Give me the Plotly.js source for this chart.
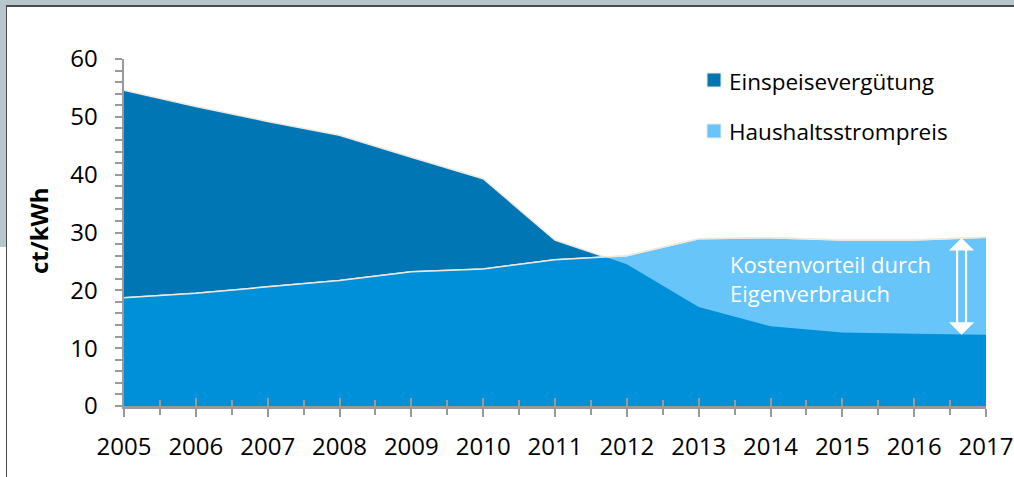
<!DOCTYPE html>
<html>
<head>
<meta charset="utf-8">
<script src="https://cdn.plot.ly/plotly-3.0.1.min.js"></script>
<style>
  html, body { margin: 0; padding: 0; width: 1014px; height: 477px; overflow: hidden; background: #ffffff; }
  #frameTop { position: absolute; left: 0; top: 0; width: 1014px; height: 5px; background: #b5c7cb; }
  #frameLeft { position: absolute; left: 0; top: 0; width: 6px; height: 247px; background: #b5c7cb; }
  #lineTop { position: absolute; left: 6px; top: 5px; width: 1008px; height: 2px; background: #4a4a4a; }
  #lineLeft { position: absolute; left: 6px; top: 5px; width: 1px; height: 472px; background: #4a4a4a; }
  #chart { position: absolute; left: 0; top: 0; width: 1014px; height: 477px; }
</style>
</head>
<body>
<div id="frameTop"></div>
<div id="frameLeft"></div>
<div id="lineTop"></div>
<div id="lineLeft"></div>
<div id="chart"></div>
<script>
// ---- data ----
const years = [2005, 2006, 2007, 2008, 2009, 2010, 2011, 2012, 2013, 2014, 2015, 2016, 2017];
const yearLabels = ["2005", "2006", "2007", "2008", "2009", "2010", "2011", "2012", "2013", "2014", "2015", "2016", "2017"];
const einspeise = [54.6, 51.8, 49.2, 46.8, 43.0, 39.3, 28.7, 24.5, 17.1, 13.8, 12.7, 12.5, 12.3];
const haushalt = [18.7, 19.5, 20.6, 21.7, 23.2, 23.7, 25.3, 26.0, 28.9, 29.1, 28.7, 28.7, 29.2];
const seriesNames = ["Einspeisevergütung", "Haushaltsstrompreis"];
const noteText = "Kostenvorteil durch<br>Eigenverbrauch";
const yTitle = "ct/kWh";

// ---- colours ----
const cDark = "#0076b5", cMid = "#008fd9", cLight = "#68c5f9", cEdge = "#efe9dd";

// lower envelope of the two series (with crossing points), for the overlap colour
const lowX = [], lowY = [];
for (let i = 0; i < years.length; i++) {
  lowX.push(years[i]);
  lowY.push(Math.min(einspeise[i], haushalt[i]));
  if (i < years.length - 1) {
    const d0 = einspeise[i] - haushalt[i], d1 = einspeise[i + 1] - haushalt[i + 1];
    if (d0 * d1 < 0) {
      const t = d0 / (d0 - d1);
      lowX.push(years[i] + t * (years[i + 1] - years[i]));
      lowY.push(einspeise[i] + t * (einspeise[i + 1] - einspeise[i]));
    }
  }
}

const traces = [
  { x: years, y: einspeise, type: "scatter", mode: "lines", fill: "tozeroy",
    fillcolor: cDark, line: { color: cEdge, width: 1.5 }, name: seriesNames[0], hoverinfo: "skip" },
  { x: years, y: haushalt, type: "scatter", mode: "lines", fill: "tozeroy",
    fillcolor: cLight, line: { color: cEdge, width: 1.5 }, name: seriesNames[1], hoverinfo: "skip" },
  { x: lowX, y: lowY, type: "scatter", mode: "lines", fill: "tozeroy",
    fillcolor: cMid, line: { color: cMid, width: 0 }, hoverinfo: "skip" },
  { x: years, y: haushalt, type: "scatter", mode: "lines",
    line: { color: cEdge, width: 1.5 }, hoverinfo: "skip" }
];

const axisGray = "#9a9a9a";
const L = 124, R = 986, T = 59, B = 406;
const px2paperX = p => (p - L) / (R - L);
const px2paperY = p => (B - p) / (B - T);

const arrowX = 2016.66, arrowTop = 29.05, arrowBot = 12.3;
const shaftHalf = 0.062; // half shaft width in years (~4.5 px)

const layout = {
  width: 1014, height: 477,
  margin: { l: L, r: 1014 - R, t: T, b: 477 - B },
  paper_bgcolor: "rgba(0,0,0,0)", plot_bgcolor: "rgba(0,0,0,0)",
  showlegend: false,
  font: { family: "Open Sans, sans-serif", color: "#000" },
  xaxis: {
    range: [2005, 2017], tickvals: years, ticktext: yearLabels,
    showgrid: false, zeroline: false, showline: true, linecolor: axisGray, linewidth: 2.5,
    ticks: "outside", ticklen: 8, tickcolor: axisGray, tickwidth: 2,
    minor: { dtick: 0.5, ticks: "outside", ticklen: 6, tickcolor: axisGray, tickwidth: 2 },
    tickfont: { size: 24, color: "#000" }, ticklabelstandoff: 10, fixedrange: true
  },
  xaxis2: {
    overlaying: "x", range: [2005, 2017], tickvals: years, showticklabels: false,
    showgrid: false, zeroline: false, showline: false,
    ticks: "inside", ticklen: 8, tickcolor: axisGray, tickwidth: 2,
    minor: { dtick: 0.5, ticks: "inside", ticklen: 6, tickcolor: axisGray, tickwidth: 2 }
  },
  yaxis: {
    range: [0, 60], dtick: 10, showgrid: false, zeroline: false,
    showline: true, linecolor: axisGray, linewidth: 2.5,
    ticks: "outside", ticklen: 7, tickcolor: axisGray, tickwidth: 2,
    minor: { dtick: 2, ticks: "outside", ticklen: 7, tickcolor: axisGray, tickwidth: 2 },
    tickfont: { size: 24, color: "#000" }, ticklabelstandoff: 12, fixedrange: true
  },
  shapes: [
    { type: "line", xref: "x", yref: "y", x0: arrowX - shaftHalf, x1: arrowX - shaftHalf,
      y0: arrowBot + 1.6, y1: arrowTop - 1.6, line: { color: "#fff", width: 2.2 }, layer: "above" },
    { type: "line", xref: "x", yref: "y", x0: arrowX + shaftHalf, x1: arrowX + shaftHalf,
      y0: arrowBot + 1.6, y1: arrowTop - 1.6, line: { color: "#fff", width: 2.2 }, layer: "above" },
    { type: "rect", xref: "paper", yref: "paper",
      x0: px2paperX(707), x1: px2paperX(721), y0: px2paperY(87), y1: px2paperY(73),
      fillcolor: cDark, line: { color: cEdge, width: 1 } },
    { type: "rect", xref: "paper", yref: "paper",
      x0: px2paperX(707), x1: px2paperX(721), y0: px2paperY(138), y1: px2paperY(124),
      fillcolor: cLight, line: { color: cEdge, width: 1 } }
  ],
  annotations: [
    { xref: "paper", yref: "paper", x: px2paperX(38), y: px2paperY(231), text: "<b>" + yTitle + "</b>",
      textangle: -90, showarrow: false, font: { size: 24, color: "#000" }, xanchor: "center", yanchor: "middle" },
    { xref: "paper", yref: "paper", x: px2paperX(727), y: px2paperY(81), text: seriesNames[0],
      showarrow: false, xanchor: "left", yanchor: "middle", font: { size: 22.5, color: "#000" } },
    { xref: "paper", yref: "paper", x: px2paperX(727), y: px2paperY(131), text: seriesNames[1],
      showarrow: false, xanchor: "left", yanchor: "middle", font: { size: 22.5, color: "#000" } },
    { xref: "x", yref: "y", x: 2013.41, y: 22.0, text: noteText, showarrow: false,
      xanchor: "left", yanchor: "middle", align: "left", font: { size: 22, color: "#fff" } },
    { xref: "x", yref: "y", axref: "x", ayref: "y", x: arrowX, y: arrowTop, ax: arrowX, ay: arrowTop - 2.0,
      text: "", showarrow: true, arrowhead: 1, arrowsize: 2.1, arrowwidth: 2, arrowcolor: "#fff", standoff: 0, startstandoff: 0 },
    { xref: "x", yref: "y", axref: "x", ayref: "y", x: arrowX, y: arrowBot, ax: arrowX, ay: arrowBot + 2.0,
      text: "", showarrow: true, arrowhead: 1, arrowsize: 2.1, arrowwidth: 2, arrowcolor: "#fff", standoff: 0, startstandoff: 0 }
  ]
};

// invisible trace on xaxis2 so its inside ticks are drawn
traces.push({ x: [2005, 2017], y: [0, 0], xaxis: "x2", yaxis: "y", mode: "lines",
  line: { width: 0, color: "rgba(0,0,0,0)" }, hoverinfo: "skip", type: "scatter" });

Plotly.newPlot("chart", traces, layout, { staticPlot: true, displayModeBar: false });
</script>
</body>
</html>
